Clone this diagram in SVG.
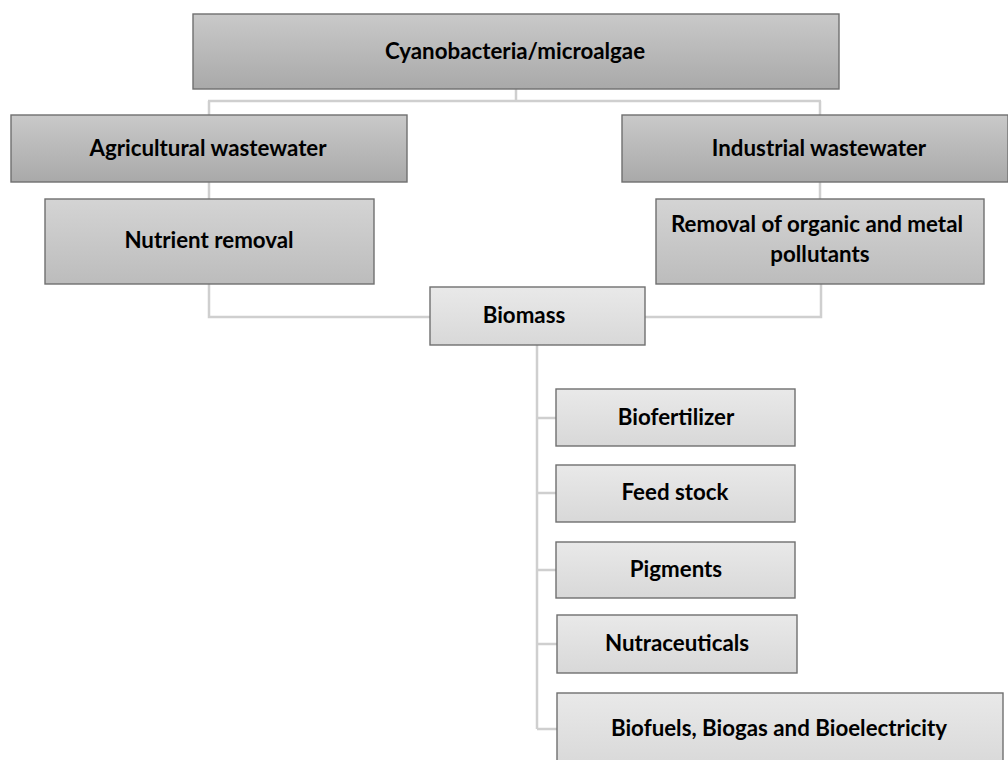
<svg xmlns="http://www.w3.org/2000/svg" width="1008" height="760" viewBox="0 0 1008 760">
<defs>
<linearGradient id="gDark" x1="0" y1="0" x2="0" y2="1">
<stop offset="0" stop-color="#c9c9c9"/>
<stop offset="1" stop-color="#a9a9a9"/>
</linearGradient>
<linearGradient id="gMid" x1="0" y1="0" x2="0" y2="1">
<stop offset="0" stop-color="#d4d4d4"/>
<stop offset="1" stop-color="#bcbcbc"/>
</linearGradient>
<linearGradient id="gLight" x1="0" y1="0" x2="0" y2="1">
<stop offset="0" stop-color="#e9e9e9"/>
<stop offset="1" stop-color="#d8d8d8"/>
</linearGradient>
<style>
.box{stroke:#6f6f6f;stroke-width:1.4}
.dark{fill:url(#gDark)}
.mid{fill:url(#gMid)}
.light{fill:url(#gLight)}
.conn{fill:none;stroke:#cfcfcf;stroke-width:2.5}
text{font-family:Lato,"Open Sans","Liberation Sans",sans-serif;font-weight:bold;font-size:22.3px;fill:#000;text-anchor:middle}
</style>
</defs>
<rect width="1008" height="760" fill="#fff"/>
<g id="connectors">
<path class="conn" d="M516 89V101M208 101H821M209 101V115M820 101V115"/>
<path class="conn" d="M209 182V199M820 182V199"/>
<path class="conn" d="M209 284V317H430M821 284V317H645"/>
<path class="conn" d="M537 345V729M537 418H556M537 493H556M537 570H556M537 644H557M537 729H557"/>
</g>
<g id="cyanobacteria">
<rect class="box dark" x="193" y="14" width="646" height="75"/>
<text x="515" y="59">Cyanobacteria/microalgae</text>
</g>
<g id="agricultural">
<rect class="box dark" x="11" y="115" width="396" height="67"/>
<text x="208" y="156">Agricultural wastewater</text>
</g>
<g id="industrial">
<rect class="box dark" x="622" y="115" width="386" height="67"/>
<text x="819" y="156">Industrial wastewater</text>
</g>
<g id="nutrient">
<rect class="box mid" x="45" y="199" width="329" height="85"/>
<text x="209" y="248">Nutrient removal</text>
</g>
<g id="removal">
<rect class="box mid" x="656" y="199" width="328" height="85"/>
<text x="817" y="232">Removal of organic and metal</text>
<text x="820" y="262">pollutants</text>
</g>
<g id="biomass">
<rect class="box light" x="430" y="287" width="215" height="58"/>
<text x="524" y="323">Biomass</text>
</g>
<g id="biofertilizer">
<rect class="box light" x="556" y="389" width="239" height="57"/>
<text x="676" y="425">Biofertilizer</text>
</g>
<g id="feedstock">
<rect class="box light" x="556" y="465" width="239" height="57"/>
<text x="675" y="500">Feed stock</text>
</g>
<g id="pigments">
<rect class="box light" x="556" y="542" width="239" height="56"/>
<text x="676" y="577">Pigments</text>
</g>
<g id="nutraceuticals">
<rect class="box light" x="557" y="615" width="240" height="58"/>
<text x="677" y="651">Nutraceuticals</text>
</g>
<g id="biofuels">
<rect class="box light" x="557" y="693" width="446" height="75"/>
<text x="779" y="736">Biofuels, Biogas and Bioelectricity</text>
</g>
</svg>
